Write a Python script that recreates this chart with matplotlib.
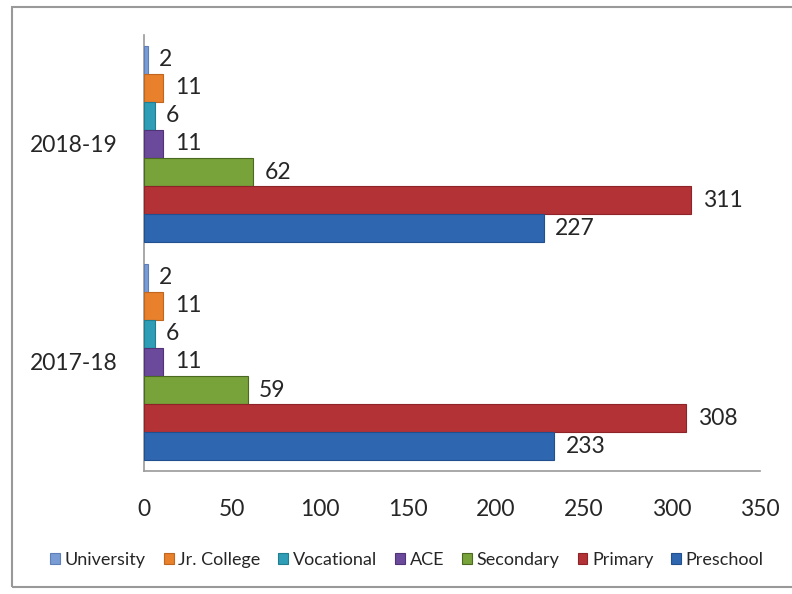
import matplotlib
matplotlib.use("Agg")
import matplotlib.pyplot as plt
from matplotlib.patches import Rectangle
import numpy as np

years = ["2017-18", "2018-19"]
series = ["University", "Jr. College", "Vocational", "ACE", "Secondary", "Primary", "Preschool"]
values = {
    "University": [2, 2],
    "Jr. College": [11, 11],
    "Vocational": [6, 6],
    "ACE": [11, 11],
    "Secondary": [59, 62],
    "Primary": [308, 311],
    "Preschool": [233, 227],
}
colors = {
    "University": "#7A9CD4",
    "Jr. College": "#E8802C",
    "Vocational": "#2E9DB5",
    "ACE": "#6B4A9C",
    "Secondary": "#78A23A",
    "Primary": "#B23236",
    "Preschool": "#2F66B0",
}
edges = {
    "University": "#5F7FB8",
    "Jr. College": "#C0661E",
    "Vocational": "#217D90",
    "ACE": "#513478",
    "Secondary": "#4A6A22",
    "Primary": "#8E2428",
    "Preschool": "#22508E",
}

plt.rcParams['font.family'] = ['Lato', 'DejaVu Sans']

fig = plt.figure(figsize=(7.92, 5.94), dpi=100)
W, H = 792, 594
ax = fig.add_axes([144 / W, 1 - 471 / H, (760 - 144) / W, (471 - 35) / H])

n = len(series)
group_w = 0.9
bh = group_w / n
y = np.arange(len(years))
for i, s in enumerate(series):
    # University on top, Preschool at bottom
    off = group_w / 2 - bh / 2 - i * bh
    ax.barh(y + off, values[s], height=bh, color=colors[s], edgecolor=edges[s],
            linewidth=0.8, label=s, zorder=3)
    for yy, v in zip(y + off, values[s]):
        ax.text(v + 6.5, yy, str(v), va="center", ha="left", fontsize=16.5, color="#262626")

ax.set_xlim(0, 350)
ax.set_ylim(-0.5, 1.5)
ax.set_xticks(np.arange(0, 351, 50))
ax.set_yticks(y)
ax.set_yticklabels(years)
ax.tick_params(axis="both", length=0, labelsize=16.5, colors="#262626")
ax.tick_params(axis="x", pad=20)
ax.tick_params(axis="y", pad=19)
for sp in ["top", "right"]:
    ax.spines[sp].set_visible(False)
for sp in ["left", "bottom"]:
    ax.spines[sp].set_color("#999999")
    ax.spines[sp].set_linewidth(1.2)

handles, labels = ax.get_legend_handles_labels()
fig.legend(handles, labels, loc="center", bbox_to_anchor=(407 / W, 1 - 560 / H),
           ncol=7, frameon=False, fontsize=13, handlelength=0.55, handleheight=0.55,
           handletextpad=0.25, columnspacing=1.0, labelcolor="#262626")

fig.patches.append(Rectangle((12 / W, 7 / H), 1.0, (587 - 7) / H, transform=fig.transFigure,
                             fill=False, edgecolor="#999999", linewidth=1.5))

fig.savefig("out.png", dpi=100)
